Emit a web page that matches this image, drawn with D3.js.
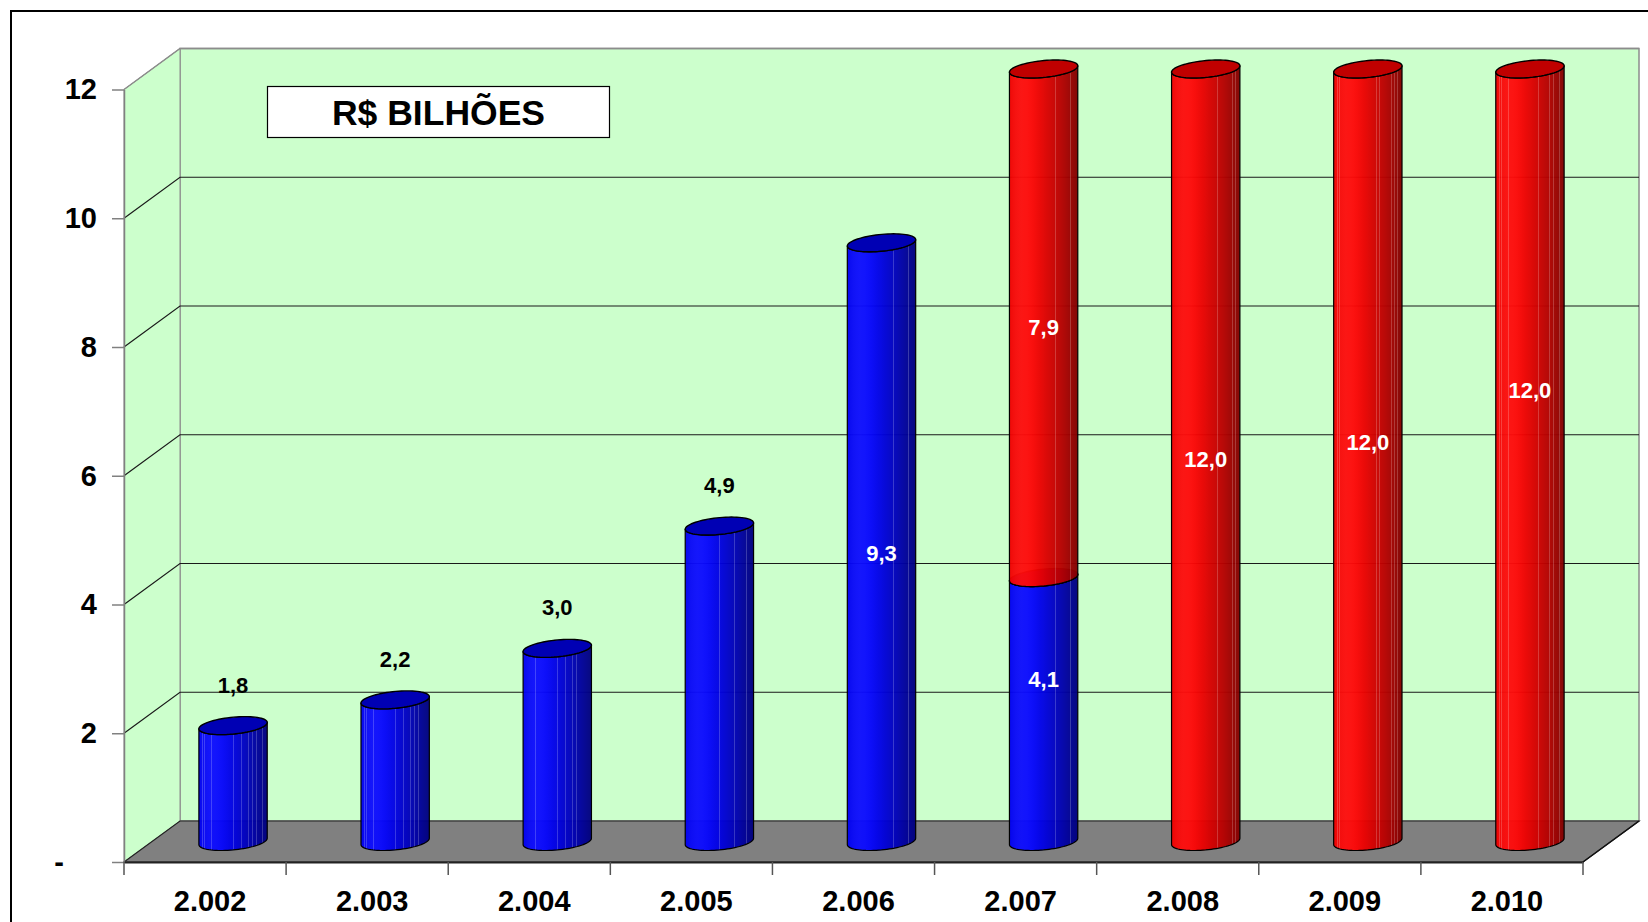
<!DOCTYPE html>
<html>
<head>
<meta charset="utf-8">
<script src="https://cdn.jsdelivr.net/npm/d3@7/dist/d3.min.js"></script>
<style>
  html, body { margin: 0; padding: 0; background: #ffffff; }
  svg { display: block; }
  text { font-family: "Liberation Sans", Arial, sans-serif; font-weight: bold; }
</style>
</head>
<body>
<svg id="chart" width="1648" height="922"></svg>
<script>
// ---------- DATA ----------
const categories = ["2.002", "2.003", "2.004", "2.005", "2.006", "2.007", "2.008", "2.009", "2.010"];
const blueValues = [1.8, 2.2, 3.0, 4.9, 9.3, 4.1, 0, 0, 0];
const redValues  = [0, 0, 0, 0, 0, 7.9, 12.0, 12.0, 12.0];
const blueLabels = ["1,8", "2,2", "3,0", "4,9", "9,3", "4,1", "", "", ""];
const redLabels  = ["", "", "", "", "", "7,9", "12,0", "12,0", "12,0"];
// level (in chart units) where inside labels sit
const blueLabelLevels = [null, null, null, null, 4.48, 2.53, null, null, null];
const redLabelLevels  = [null, null, null, null, null, 8.0, 5.94, 6.2, 7.01];
const yTickValues = [0, 2, 4, 6, 8, 10, 12];
const yTickLabels = ["-", "2", "4", "6", "8", "10", "12"];
const titleText = "R$ BILHÕES";

// ---------- LAYOUT ----------
const svg = d3.select("#chart");
const depth = { dx: 56, dy: -41 };
const x = d3.scaleBand().domain(categories).range([124, 1583]).padding(0);
const y = d3.scaleLinear().domain([0, 12]).range([862, 89.5]);
const bw = x.bandwidth();
const x0 = x.range()[0], x1 = x.range()[1];

// outer border
svg.append("rect").attr("x", 11).attr("y", 11).attr("width", 1700).attr("height", 1000)
  .attr("fill", "#fff").attr("stroke", "#000").attr("stroke-width", 2);

const wallFill = "#ccffcc";
// back wall
svg.append("rect")
  .attr("x", x0 + depth.dx).attr("y", y(12) + depth.dy)
  .attr("width", x1 - x0).attr("height", y(0) - y(12))
  .attr("fill", wallFill).attr("stroke", "#8c8c8c").attr("stroke-width", 1.5);
// side wall
svg.append("path")
  .attr("d", `M${x0},${y(12)} L${x0 + depth.dx},${y(12) + depth.dy} L${x0 + depth.dx},${y(0) + depth.dy} L${x0},${y(0)} Z`)
  .attr("fill", wallFill).attr("stroke", "#8c8c8c").attr("stroke-width", 1);

// gridlines
const gridVals = yTickValues.filter(v => v > 0 && v < 12);
const grid = svg.append("g");
gridVals.forEach(v => {
  grid.append("path")
    .attr("d", `M${x0},${y(v)} L${x0 + depth.dx},${y(v) + depth.dy} L${x1 + depth.dx},${y(v) + depth.dy}`)
    .attr("fill", "none").attr("stroke", "#1a1a1a").attr("stroke-width", 1.2);
});
grid.append("path")
  .attr("d", `M${x0},${y(12)} L${x0 + depth.dx},${y(12) + depth.dy} L${x1 + depth.dx},${y(12) + depth.dy}`)
  .attr("fill", "none").attr("stroke", "#8c8c8c").attr("stroke-width", 1.5);

// floor
svg.append("path")
  .attr("d", `M${x0},${y(0)} L${x0 + depth.dx},${y(0) + depth.dy} L${x1 + depth.dx},${y(0) + depth.dy} L${x1},${y(0)} Z`)
  .attr("fill", "#808080").attr("stroke", "#222").attr("stroke-width", 1.2);

// ---------- GRADIENTS ----------
const defs = svg.append("defs");
function makeGradient(id, colors) {
  const base = d3.interpolateRgbBasis(colors);
  const stripes = [0.05, 0.08, 0.18, 0.5, 0.62, 0.67, 0.72, 0.78, 0.84, 0.89, 0.93];
  const w = 0.007;
  const stops = [];
  for (let t = 0; t <= 1.0001; t += 0.05) stops.push([t, base(t)]);
  stripes.forEach(p => {
    const light = d3.interpolateRgb(base(p), "#ffffff")(0.2);
    stops.push([p, base(p)], [p + 0.00001, light], [p + w, light], [p + w + 0.00001, base(p + w)]);
  });
  stops.sort((a, b) => a[0] - b[0]);
  const g = defs.append("linearGradient").attr("id", id).attr("x1", 0).attr("x2", 1).attr("y1", 0).attr("y2", 0);
  stops.forEach(s => g.append("stop").attr("offset", (Math.min(1, s[0]) * 100) + "%").attr("stop-color", s[1]));
}
makeGradient("gBlue", ["#0000f0", "#1212ff", "#0404ff", "#0000e2", "#0000c2", "#0000a0", "#00007c"]);
makeGradient("gRed", ["#f00000", "#ff1212", "#ff0404", "#e20000", "#c80000", "#a80000", "#800000"]);

// ---------- CYLINDERS ----------
const rA = 32, rEx = 12, rEy = 9;
const th0 = Math.atan2(rEx, rA);
function pt(cx, yc, th) { return [cx + rA * Math.cos(th) + rEx * Math.sin(th), yc - rEy * Math.sin(th)]; }
function arc(cx, yc, a0, a1, n) {
  const pts = [];
  for (let i = 0; i <= n; i++) pts.push(pt(cx, yc, a0 + (a1 - a0) * i / n));
  return pts;
}
function sidePath(cx, ycBot, ycTop) {
  const bottom = arc(cx, ycBot, th0 + Math.PI, th0 + 2 * Math.PI, 40);
  const top = arc(cx, ycTop, th0 + 2 * Math.PI, th0 + Math.PI, 40);
  const all = bottom.concat(top);
  return "M" + all.map(p => p[0].toFixed(2) + "," + p[1].toFixed(2)).join("L") + "Z";
}
function ellipsePath(cx, yc) {
  const pts = arc(cx, yc, 0, 2 * Math.PI, 72);
  return "M" + pts.map(p => p[0].toFixed(2) + "," + p[1].toFixed(2)).join("L") + "Z";
}

const bars = svg.append("g");
const midDx = depth.dx / 2, midDy = depth.dy / 2;
categories.forEach((c, i) => {
  const cx = x(c) + bw / 2 + midDx;
  const segs = [];
  if (blueValues[i] > 0) segs.push({ from: 0, to: blueValues[i], fill: "url(#gBlue)", top: "#0000b4" });
  if (redValues[i] > 0) {
    const base = blueValues[i];
    segs.push({ from: base, to: base + redValues[i], fill: "url(#gRed)", top: "#c00000" });
  }
  segs.forEach(s => {
    const ycB = y(s.from) + midDy, ycT = y(s.to) + midDy;
    bars.append("path").attr("d", sidePath(cx, ycB, ycT))
      .attr("fill", s.fill).attr("fill-opacity", 0.96)
      .attr("stroke", "#000").attr("stroke-width", 1.2).attr("stroke-linejoin", "round");
    bars.append("path").attr("d", ellipsePath(cx, ycT))
      .attr("fill", s.top).attr("stroke", "#000").attr("stroke-width", 1.4);
  });
});

// ---------- AXES ----------
const yAxis = d3.axisLeft(y).tickValues(yTickValues).tickSize(12).tickSizeOuter(0).tickPadding(15)
  .tickFormat((d, i) => yTickLabels[i]);
const yg = svg.append("g").attr("transform", `translate(${x0},0)`).call(yAxis);
yg.select(".domain").attr("stroke", "#808080").attr("stroke-width", 1.5);
yg.selectAll(".tick line").attr("stroke", "#808080").attr("stroke-width", 1.5);
yg.selectAll(".tick text").attr("font-size", 29).attr("font-family", "Liberation Sans, Arial, sans-serif")
  .attr("font-weight", "bold").attr("fill", "#000");
yg.selectAll(".tick text").filter(d => d === 0).attr("x", -65).attr("text-anchor", "middle");

const xAxis = d3.axisBottom(x).tickSize(0).tickSizeOuter(0).tickPadding(28.5);
const xg = svg.append("g").attr("transform", `translate(0,${y(0)})`).call(xAxis);
xg.select(".domain").attr("stroke", "#222").attr("stroke-width", 2.2);
xg.selectAll(".tick text").attr("font-size", 29).attr("font-family", "Liberation Sans, Arial, sans-serif")
  .attr("font-weight", "bold").attr("fill", "#000").attr("dx", 5);
const bounds = categories.map(c => x(c)).concat([x1]);
xg.selectAll(".bound").data(bounds).join("line").attr("class", "bound")
  .attr("x1", d => d).attr("x2", d => d).attr("y1", 0).attr("y2", 13)
  .attr("stroke", "#555").attr("stroke-width", 1.5);
// floor right diagonal
svg.append("line").attr("x1", x1).attr("y1", y(0)).attr("x2", x1 + depth.dx).attr("y2", y(0) + depth.dy)
  .attr("stroke", "#111").attr("stroke-width", 1.5);

// ---------- LABELS ----------
const labels = svg.append("g").attr("font-size", 22).attr("text-anchor", "middle");
categories.forEach((c, i) => {
  const cx = x(c) + bw / 2 + midDx;
  if (blueLabels[i]) {
    let yy, col;
    if (blueLabelLevels[i] == null) { yy = y(blueValues[i]) + midDy - 33; col = "#000"; }
    else { yy = y(blueLabelLevels[i]) + midDy + 8; col = "#fff"; }
    labels.append("text").attr("x", cx).attr("y", yy).attr("fill", col).text(blueLabels[i]);
  }
  if (redLabels[i]) {
    const yy = y(redLabelLevels[i]) + midDy + 8;
    labels.append("text").attr("x", cx).attr("y", yy).attr("fill", "#fff").text(redLabels[i]);
  }
});

// ---------- TITLE BOX ----------
svg.append("rect").attr("x", 267.5).attr("y", 86.5).attr("width", 342).attr("height", 51)
  .attr("fill", "#fff").attr("stroke", "#000").attr("stroke-width", 1.2);
svg.append("text").attr("x", 438.5).attr("y", 124.5).attr("text-anchor", "middle")
  .attr("font-size", 35.5).attr("fill", "#000").text(titleText);
</script>
</body>
</html>
